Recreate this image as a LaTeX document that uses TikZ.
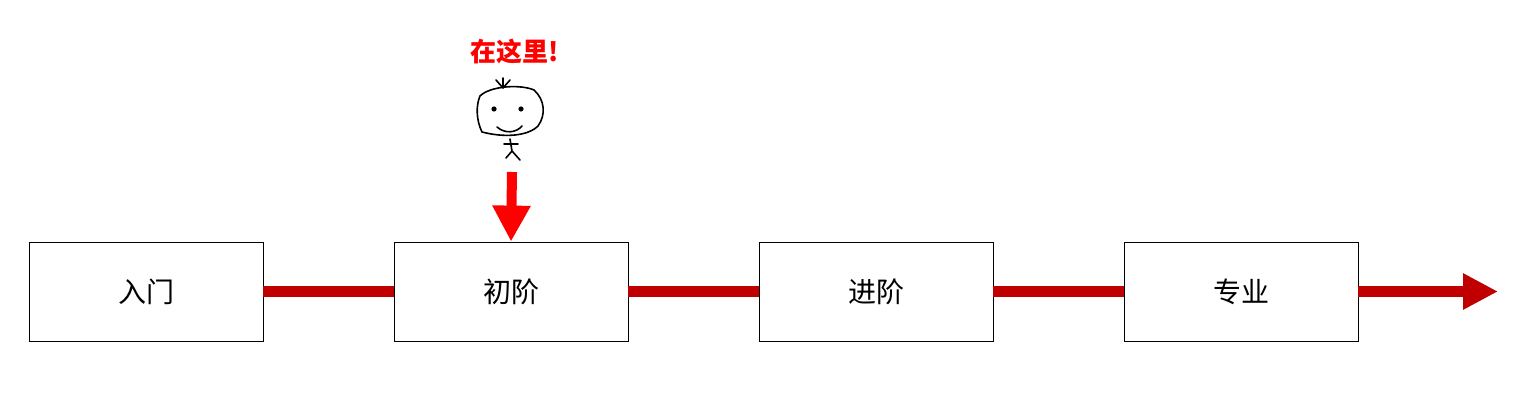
\documentclass[tikz,border=0pt]{standalone}
\usepackage{fontspec}
\newfontfamily\cjk{Noto Sans CJK SC}
\usetikzlibrary{arrows.meta}
\definecolor{dred}{HTML}{C00000}
\begin{document}
\begin{tikzpicture}[x=1pt,y=-1pt,
  stage/.style={draw,thick,minimum width=234pt,minimum height=99pt,font=\cjk\fontsize{28}{30}\selectfont},
  link/.style={dred,line width=10pt},
  pen/.style={line width=1.6pt,line cap=round,line join=round}]
\useasboundingbox (0,0) rectangle (1528,403);
\node[stage] (a) at (146,291.5) {入门};
\node[stage] (b) at (511,291.5) {初阶};
\node[stage] (c) at (876,291.5) {进阶};
\node[stage] (d) at (1241,291.5) {专业};
\coordinate (e) at (1498,291.5);
\draw[link] (a) -- (b);
\draw[link] (b) -- (c);
\draw[link] (c) -- (d);
\draw[link,-{Triangle[length=35pt,width=34pt]}] (d) -- (e);
\node[text=red,font=\cjk\bfseries\fontsize{26}{28}\selectfont] (t) at (515,52) {在这里!};
\coordinate (s) at (512,172);
\draw[red,line width=10pt,-{Triangle[length=36pt,width=36pt]}] (s) -- (b.north);
% stick figure
\draw[pen] (480,96) .. controls (490,86) and (520,84) .. (534,90)
  .. controls (545,100) and (546,115) .. (538,126)
  .. controls (528,136) and (505,138) .. (482,132)
  .. controls (476,120) and (476,105) .. (480,96) -- cycle;
\fill (494,109) circle (2.6pt) (521,109) circle (2.6pt);
\draw[pen] (497,127) .. controls (505,134) and (516,133) .. (522,126);
\draw[pen] (503,88) -- (496,80) (503,88) -- (503,78) (503,88) -- (510,80);
\draw[pen] (510,139) -- (512,151) (504,144) -- (518,144) (512,151) -- (506,158) (512,151) -- (520,160);
\end{tikzpicture}
\end{document}
